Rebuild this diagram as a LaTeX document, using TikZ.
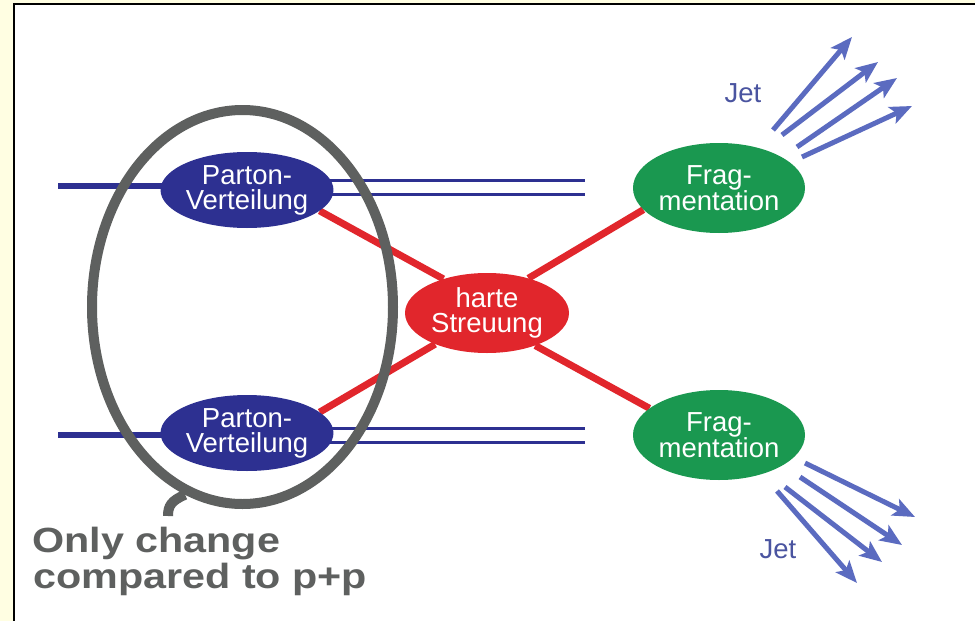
\documentclass[tikz,border=0pt]{standalone}
\usepackage{fontspec}
\usepackage{tikz}
\usetikzlibrary{shapes.geometric,arrows.meta,backgrounds}

\newfontfamily\lblfont{Liberation Sans}
\newfontfamily\notefont[FakeStretch=1.18]{Liberation Sans Bold}

\definecolor{paper}{HTML}{FFFEE2}
\definecolor{partonblue}{HTML}{2D3091}
\definecolor{fraggreen}{HTML}{1A9850}
\definecolor{hardred}{HTML}{E1262C}
\definecolor{ringgray}{HTML}{5E605F}
\definecolor{jetblue}{HTML}{5B6BC0}
\definecolor{jettext}{HTML}{4A54A0}

\tikzset{
	blob/.style = {ellipse, inner sep = 0pt, text = white, align = center,
		font = \lblfont\fontsize{27.5}{25}\selectfont},
	parton/.style = {blob, fill = partonblue, minimum width = 164, minimum height = 76},
	hard/.style = {blob, fill = hardred, minimum width = 164, minimum height = 80},
	frag/.style = {blob, fill = fraggreen, minimum width = 172, minimum height = 90},
	beam/.style = {partonblue, line width = 6},
	remnant/.style = {partonblue, line width = 3},
	hardline/.style = {hardred, line width = 7},
	jetarrow/.style = {jetblue, line width = 5, -{Stealth[length = 22, width = 18, inset = 5]}},
	jetlabel/.style = {text = jettext, font = \lblfont\fontsize{27.5}{30}\selectfont},
	ringline/.style = {ringgray, line width = 10},
	note/.style = {anchor = base west, inner sep = 0pt, text = ringgray,
		font = \notefont\fontsize{35}{36}\selectfont}
}

\begin{document}
\begin{tikzpicture}[x = 1pt, y = -1pt]
	\useasboundingbox (0,0) rectangle (975,621);
	\begin{pgfonlayer}{background}
		\fill [paper] (0,0) rectangle (975,621);
		\filldraw [fill = white, draw = black, line width = 2] (14,4) rectangle (985,630);
	\end{pgfonlayer}

	\node [parton] (pd1) at (247,190) {Parton-\\Verteilung};
	\node [parton] (pd2) at (247,433) {Parton-\\Verteilung};
	\node [hard] (hs) at (487,313) {harte\\Streuung};
	\node [frag] (fr1) at (719,188) {Frag-\\mentation};
	\node [frag] (fr2) at (719,435) {Frag-\\mentation};

	\coordinate (beam1) at (58,186);
	\coordinate (beam2) at (58,435);
	\coordinate (rem1a) at (585,180);
	\coordinate (rem1b) at (585,194);
	\coordinate (rem2a) at (585,428);
	\coordinate (rem2b) at (585,442);

	\begin{pgfonlayer}{background}
		\draw [beam] (beam1) -- (beam1 -| pd1.center);
		\draw [beam] (beam2) -- (beam2 -| pd2.center);
		\draw [remnant] (rem1a -| pd1.center) -- (rem1a);
		\draw [remnant] (rem1b -| pd1.center) -- (rem1b);
		\draw [remnant] (rem2a -| pd2.center) -- (rem2a);
		\draw [remnant] (rem2b -| pd2.center) -- (rem2b);
		\draw [hardline] (pd1.-16) -- (hs.142);
		\draw [hardline] (pd2.16) -- (hs.211);
		\draw [hardline] (hs.40) -- (fr1.196);
		\draw [hardline] (hs.326) -- (fr2.159);
	\end{pgfonlayer}

	% jets
	\foreach \i/\sx/\sy/\ex/\ey in {1/773/130/852/37, 2/782/135/878/62,
		3/797/147/897/78, 4/802/157/912/106} {
		\coordinate (up\i) at (\sx,\sy);
		\coordinate (upend\i) at (\ex,\ey);
		\draw [jetarrow] (up\i) -- (upend\i);
	}
	\foreach \i/\sx/\sy/\ex/\ey in {1/805/463/915/517, 2/800/477/902/545,
		3/785/487/882/562, 4/777/491/857/583} {
		\coordinate (dn\i) at (\sx,\sy);
		\coordinate (dnend\i) at (\ex,\ey);
		\draw [jetarrow] (dn\i) -- (dnend\i);
	}
	\node [jetlabel] (jet1) at (743,93) {Jet};
	\node [jetlabel] (jet2) at (778,549) {Jet};

	% marked region
	\node [draw = ringgray, line width = 10, ellipse, inner sep = 0pt,
		minimum width = 301, minimum height = 394] (ring) at (242.5,307) {};
	\coordinate (tail) at (168,516);
	\draw [ringline] (ring.253) .. controls +(-14,6) and +(0,-10) .. (tail);

	\node [note] (note1) at (32,552) {Only change};
	\node [note] (note2) at (33,588) {compared to p+p};
\end{tikzpicture}
\end{document}
